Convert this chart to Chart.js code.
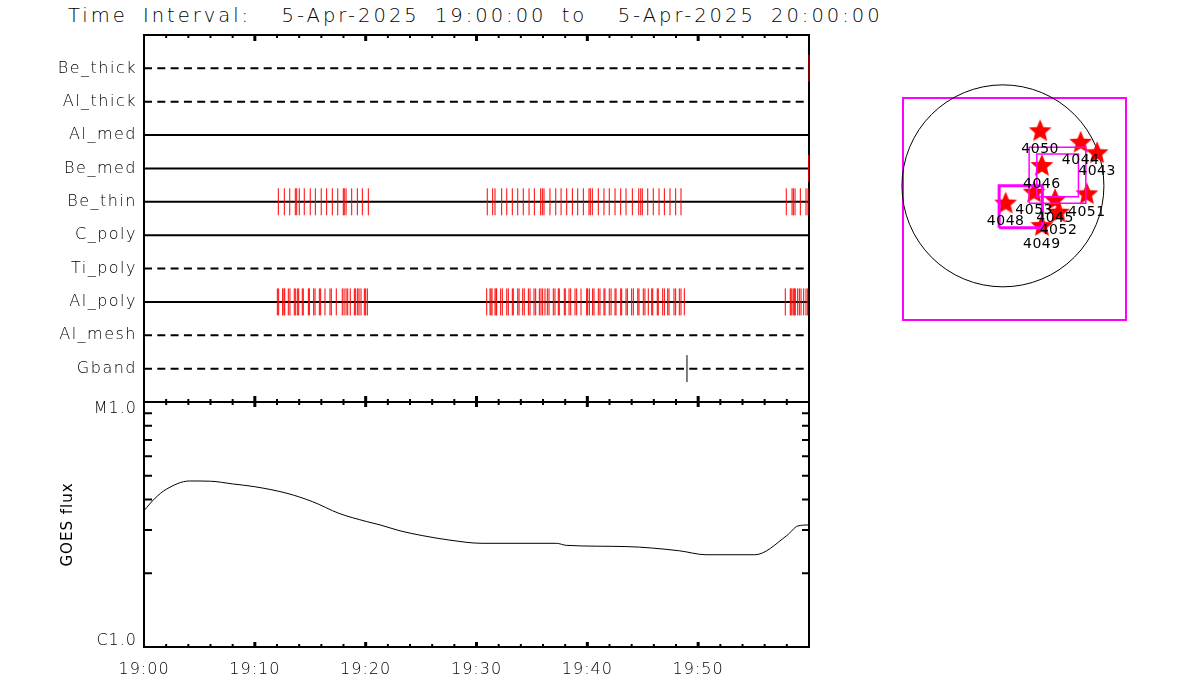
<!DOCTYPE html>
<html>
<head>
<meta charset="utf-8">
<script src="https://cdn.jsdelivr.net/npm/chart.js@4.4.1/dist/chart.umd.min.js"></script>
<style>
  html, body { margin: 0; padding: 0; background: #fff; }
  body { width: 1200px; height: 700px; position: relative; overflow: hidden; }
  #titulo { position: absolute; left: 68px; top: 4px; font-family: 'DejaVu Sans', sans-serif; font-size: 19.5px;
            font-weight: 200; letter-spacing: 3px; word-spacing: 6px; white-space: pre; color: #000; }
  canvas { position: absolute; }
  #panelFiltros { left: 0; top: 0; }
  #panelGoes { left: 0; top: 380px; }
  #mapa { left: 880px; top: 70px; }
</style>
</head>
<body>
<div id="titulo">Time Interval:  5-Apr-2025 19:00:00 to  5-Apr-2025 20:00:00</div>
<canvas id="panelFiltros" width="830" height="410"></canvas>
<canvas id="panelGoes" width="830" height="320"></canvas>
<canvas id="mapa" width="280" height="270"></canvas>
<script>
// filas de arriba hacia abajo
const filtros = ['Be_thick', 'Al_thick', 'Al_med', 'Be_med', 'Be_thin', 'C_poly', 'Ti_poly', 'Al_poly', 'Al_mesh', 'Gband'];
const etiquetasHora = ['19:00', '19:10', '19:20', '19:30', '19:40', '19:50'];
const etiquetasGoes = ['C1.0', 'M1.0'];

// minutos despues de las 19:00
const eventosBeThin = [12.12, 12.66, 13.15, 13.65, 13.78, 14.01, 14.46, 15.00, 15.46, 15.99, 16.48, 16.99, 17.48, 17.98, 18.07, 18.23, 18.74, 19.25, 19.70, 20.24,
  30.97, 31.46, 31.67, 32.27, 32.73, 33.23, 33.72, 34.22, 34.74, 35.22, 35.79, 35.94, 36.09, 36.63, 37.15, 37.63, 38.14, 38.65, 39.13, 39.64,
  40.15, 40.27, 40.45, 40.99, 41.50, 41.98, 42.50, 43.01, 43.49, 44.06, 44.64, 44.82, 44.96, 45.45, 45.95, 46.47, 46.95, 47.46, 47.97, 48.45,
  57.95, 58.47, 58.59, 58.74, 59.22, 59.73, 59.91];
const eventosAlPoly = [12.03, 12.15, 12.51, 12.63, 12.70, 13.02, 13.17, 13.56, 13.69, 13.87, 13.96, 14.28, 14.37, 14.83, 14.92, 15.31, 15.43, 15.82, 15.94,
  16.33, 16.78, 16.90, 17.35, 17.89, 18.05, 18.23, 18.38, 18.61, 18.98, 19.10, 19.28, 19.40, 19.58, 19.88, 20.00, 20.15,
  30.92, 31.22, 31.31, 31.40, 31.67, 31.76, 31.82, 32.18, 32.33, 32.73, 32.87, 33.23, 33.32, 33.72, 33.84, 34.17, 34.31, 34.68, 34.83, 35.19,
  35.34, 35.67, 35.82, 35.97, 36.18, 36.39, 36.54, 36.93, 37.08, 37.38, 37.47, 37.92, 38.01, 38.35, 38.50, 38.89, 39.04, 39.43, 39.94, 40.03,
  40.18, 40.48, 40.60, 40.99, 41.14, 41.50, 41.59, 41.98, 42.14, 42.50, 42.59, 43.01, 43.10, 43.49, 43.61, 44.00, 44.15, 44.55, 44.66, 45.05,
  45.20, 45.50, 45.81, 45.90, 46.31, 46.40, 46.80, 46.95, 47.25, 47.37, 47.82, 47.97, 48.30, 48.45, 48.75,
  57.86, 58.31, 58.38, 58.47, 58.62, 58.71, 58.76, 58.98, 59.13, 59.28, 59.52, 59.73, 59.88];
const eventosBeMed = [59.97];
const eventosBeThick = [60];
const eventosGband = [48.99];

const goesMinutos = [0, 1, 2, 4.1, 6, 8, 10, 12.9, 15.2, 17.6, 20.1, 21.3, 23.1, 25.1, 27.6, 30.5, 37.2, 38.1, 43.5, 48.3, 50.7, 55.1, 58.0, 59.0, 60];
const goesFlujo = [3.60e-6, 4.05e-6, 4.40e-6, 4.76e-6, 4.75e-6, 4.63e-6, 4.51e-6, 4.24e-6, 3.92e-6, 3.51e-6, 3.25e-6, 3.15e-6, 2.98e-6,
  2.85e-6, 2.73e-6, 2.65e-6, 2.65e-6, 2.60e-6, 2.57e-6, 2.47e-6, 2.38e-6, 2.38e-6, 2.85e-6, 3.12e-6, 3.15e-6];

// regiones activas (arcsec)
const regiones = ['4050', '4044', '4043', '4046', '4053', '4051', '4048', '4045', '4052', '4049'];
const regionX = [354, 739, 895, 370, 297, 798, 26, 496, 528, 370];
const regionY = [528, 419, 319, 198, -56, -71, -159, -125, -246, -373];
const radioSol = 960;
const cajasX = [[249, 788], [322, 718], [-36, 375]];
const cajasY = [[-166, 366], [-104, 302], [-398, 1]];

const filasDiscontinuas = ['Be_thick', 'Al_thick', 'Ti_poly', 'Al_mesh', 'Gband'];

Chart.defaults.font.family = "'DejaVu Sans', sans-serif";
Chart.defaults.font.size = 16;
Chart.defaults.font.weight = '200';
Chart.defaults.color = '#000';
Chart.defaults.animation = false;
Chart.defaults.events = [];
Chart.defaults.responsive = false;
Chart.defaults.layout.autoPadding = false;
Chart.defaults.plugins.legend.display = false;
Chart.defaults.plugins.tooltip.enabled = false;

const espaciado = {
  id: 'espaciado',
  beforeDraw(chart, args, o) { chart.ctx.letterSpacing = o.valor || '0px'; }
};
Chart.register(espaciado);

const marco = {
  id: 'marco',
  beforeDatasetsDraw(chart, args, o) {
    const {ctx, chartArea: a, scales} = chart;
    ctx.save();
    ctx.strokeStyle = '#000';
    ctx.lineWidth = 2;
    ctx.strokeRect(a.left, a.top, a.right - a.left, a.bottom - a.top);
    for (let m = 2; m < 60; m += 2) {
      const px = scales.x.getPixelForValue(m);
      const k = m % 10 === 0 ? 1 : 0;
      ctx.lineWidth = k ? 3 : 2;
      ctx.beginPath();
      ctx.moveTo(px, a.top); ctx.lineTo(px, a.top + o.arriba[k]);
      ctx.moveTo(px, a.bottom); ctx.lineTo(px, a.bottom - o.abajo[k]);
      ctx.stroke();
    }
    ctx.lineWidth = 2;
    (o.menoresY || []).forEach(v => {
      const py = scales.y.getPixelForValue(v);
      ctx.beginPath();
      ctx.moveTo(a.left, py); ctx.lineTo(a.left + 8, py);
      ctx.moveTo(a.right, py); ctx.lineTo(a.right - 7, py);
      ctx.stroke();
    });
    ctx.restore();
  }
};

const filaY = nombre => filtros.length - filtros.indexOf(nombre);

function marcas(nombre, minutos, color) {
  return {
    data: minutos.map(m => ({x: m, y: filaY(nombre)})),
    showLine: false,
    pointStyle: 'line',
    pointRotation: 90,
    pointRadius: 13.5,
    pointBorderColor: color,
    pointBorderWidth: 1,
    clip: false
  };
}

const lineasFila = filtros.map(f => ({
  data: [{x: 0, y: filaY(f)}, {x: 60, y: filaY(f)}],
  showLine: true,
  borderColor: '#000',
  borderWidth: 2,
  borderDash: filasDiscontinuas.includes(f) ? [8, 5.3] : [],
  pointRadius: 0
}));

new Chart(document.getElementById('panelFiltros'), {
  type: 'scatter',
  data: {
    datasets: [
      marcas('Be_thin', eventosBeThin, '#ff0000'),
      marcas('Al_poly', eventosAlPoly, '#ff0000'),
      marcas('Be_med', eventosBeMed, '#ff0000'),
      marcas('Be_thick', eventosBeThick, '#ff0000'),
      marcas('Gband', eventosGband, '#000'),
      ...lineasFila
    ]
  },
  options: {
    layout: {padding: {left: 0, top: 35, right: 21, bottom: 8}},
    scales: {
      x: {type: 'linear', min: 0, max: 60, display: false},
      y: {
        type: 'linear', min: 0, max: filtros.length + 1,
        afterFit: s => { s.width = 144; s.paddingTop = 0; s.paddingBottom = 0; },
        grid: {display: false, drawTicks: false},
        border: {display: false},
        ticks: {stepSize: 1, autoSkip: false, padding: 7, callback: v => filtros[filtros.length - v] ?? ''}
      }
    },
    plugins: {
      marco: {arriba: [3, 6], abajo: [3, 6]},
      espaciado: {valor: '1.5px'}
    }
  },
  plugins: [marco]
});

new Chart(document.getElementById('panelGoes'), {
  type: 'scatter',
  data: {
    datasets: [{
      data: goesMinutos.map((m, i) => ({x: m, y: goesFlujo[i]})),
      showLine: true,
      borderColor: '#000',
      borderWidth: 1,
      pointRadius: 0,
      cubicInterpolationMode: 'monotone'
    }]
  },
  options: {
    layout: {padding: {left: 0, top: 22, right: 21, bottom: 0}},
    scales: {
      x: {
        type: 'linear', min: 0, max: 60,
        afterFit: s => { s.height = 53; },
        grid: {display: false, drawTicks: false},
        border: {display: false},
        ticks: {stepSize: 10, autoSkip: false, maxRotation: 0, padding: 13, callback: v => etiquetasHora[v / 10] ?? ''}
      },
      y: {
        type: 'logarithmic', min: 1e-6, max: 1e-5,
        afterFit: s => { s.width = 144; },
        afterBuildTicks: s => { s.ticks = [1.058e-6, 9.36e-6].map(v => ({value: v})); },
        grid: {display: false, drawTicks: false},
        border: {display: false},
        ticks: {autoSkip: false, padding: 7, callback: (v, i) => etiquetasGoes[i]},
        title: {display: true, text: 'GOES flux', font: {size: 15, weight: 'normal'}, padding: {top: 59, bottom: 0}}
      }
    },
    plugins: {
      marco: {arriba: [3, 5], abajo: [3, 5], menoresY: [2e-6, 3e-6, 4e-6, 5e-6, 6e-6, 7e-6, 8e-6, 9e-6]},
      espaciado: {valor: '1px'}
    }
  },
  plugins: [marco]
});

function hacerEstrella(r) {
  const c = document.createElement('canvas');
  c.width = c.height = Math.ceil(r * 2 + 2);
  const g = c.getContext('2d');
  g.fillStyle = '#ff0000';
  g.beginPath();
  for (let i = 0; i < 10; i++) {
    const rr = i % 2 ? r * 0.45 : r;
    const ang = -Math.PI / 2 + i * Math.PI / 5;
    g.lineTo(c.width / 2 + rr * Math.cos(ang), c.height / 2 + 1 + rr * Math.sin(ang));
  }
  g.closePath();
  g.fill();
  return c;
}

const solar = {
  id: 'solar',
  beforeDatasetsDraw(chart) {
    const {ctx, chartArea: a, scales: {x, y}} = chart;
    ctx.save();
    ctx.strokeStyle = '#ff00ff';
    ctx.lineWidth = 2;
    ctx.strokeRect(a.left, a.top, a.right - a.left, a.bottom - a.top);
    const cx = x.getPixelForValue(0), cy = y.getPixelForValue(0);
    const r = x.getPixelForValue(radioSol) - cx;
    ctx.strokeStyle = '#000';
    ctx.lineWidth = 1;
    ctx.beginPath();
    ctx.arc(cx, cy, r, 0, 2 * Math.PI);
    ctx.stroke();
    ctx.restore();
  },
  afterDatasetsDraw(chart) {
    const ctx = chart.ctx;
    const meta = chart.getDatasetMeta(0);
    ctx.save();
    ctx.font = "14px 'DejaVu Sans', sans-serif";
    ctx.letterSpacing = '0.5px';
    ctx.textAlign = 'center';
    ctx.textBaseline = 'middle';
    ctx.fillStyle = '#000';
    meta.data.forEach((p, i) => ctx.fillText(regiones[i], p.x, p.y + 19));
    ctx.restore();
  }
};

new Chart(document.getElementById('mapa'), {
  type: 'scatter',
  data: {
    datasets: [
      {
        data: regiones.map((r, i) => ({x: regionX[i], y: regionY[i]})),
        pointStyle: hacerEstrella(12),
        pointRadius: 12,
        order: 2
      },
      ...cajasX.map((cx, i) => {
        const cy = cajasY[i];
        return {
          data: [{x: cx[0], y: cy[0]}, {x: cx[1], y: cy[0]}, {x: cx[1], y: cy[1]}, {x: cx[0], y: cy[1]}, {x: cx[0], y: cy[0]}],
          showLine: true,
          borderColor: '#ff00ff',
          borderWidth: i === 2 ? 3 : 1.5,
          pointRadius: 0,
          clip: false,
          order: 1
        };
      })
    ]
  },
  options: {
    layout: {padding: {left: 23, top: 28, right: 34, bottom: 20}},
    scales: {
      x: {type: 'linear', min: -950, max: 1170, display: false},
      y: {type: 'linear', min: -1275, max: 835, display: false}
    }
  },
  plugins: [solar]
});
</script>
</body>
</html>
